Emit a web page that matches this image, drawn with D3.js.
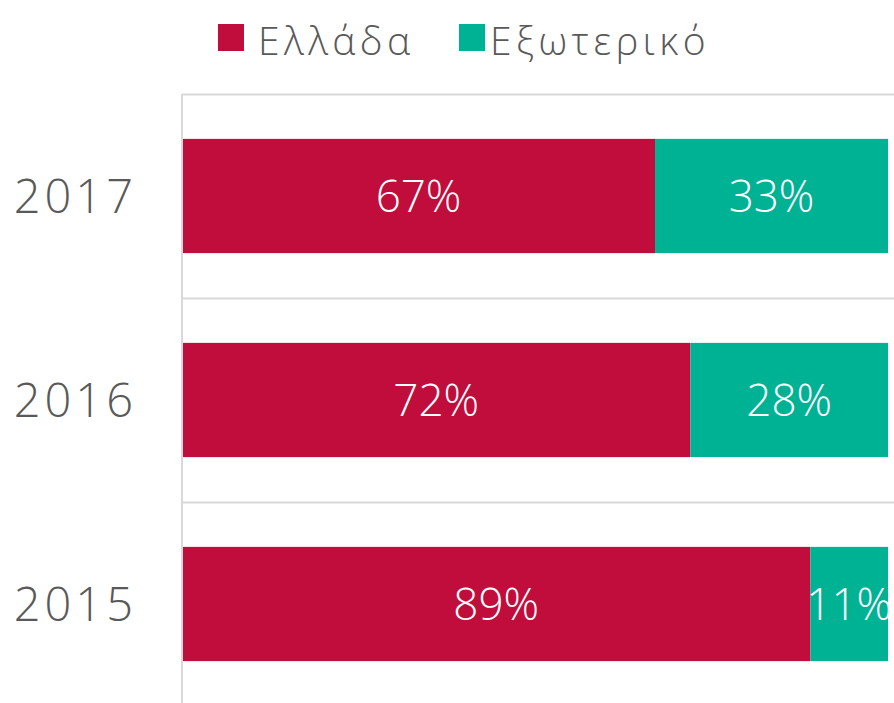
<!DOCTYPE html>
<html>
<head>
<meta charset="utf-8">
<script src="https://cdn.jsdelivr.net/npm/d3@7"></script>
<style>
  body { margin: 0; background: #fff; }
  svg { display: block; }
</style>
</head>
<body>
<div id="chart"></div>
<script>
// data
const years = ["2017", "2016", "2015"];
const greece = [67, 72, 89];
const abroad = [33, 28, 11];
const seriesNames = ["Ελλάδα", "Εξωτερικό"];
const seriesColors = ["#c00d3c", "#00b294"];

const width = 894, height = 703;

const svg = d3.select("#chart")
  .append("svg")
  .attr("width", width)
  .attr("height", height);

const x = d3.scaleLinear().domain([0, 100]).range([182, 888]);
const y = d3.scaleBand()
  .domain(years)
  .range([94, 706])
  .paddingInner(0.44)
  .paddingOuter(0.22);

// gridlines between categories
const gap = (y.step() - y.bandwidth()) / 2;
svg.selectAll(".grid")
  .data(years)
  .enter()
  .append("line")
  .attr("x1", x(0))
  .attr("x2", width)
  .attr("y1", (d) => Math.round(y(d) - gap) + 0.5)
  .attr("y2", (d) => Math.round(y(d) - gap) + 0.5)
  .attr("stroke", "#d9d9d9")
  .attr("stroke-width", 2);

// stacked rows
const rows = years.map((yr, i) => ({ year: yr, vals: [greece[i], abroad[i]] }));
const segs = [];
rows.forEach((r) => {
  let acc = 0;
  r.vals.forEach((v, k) => {
    segs.push({ year: r.year, k: k, x0: acc, x1: acc + v, v: v });
    acc += v;
  });
});

svg.selectAll(".seg")
  .data(segs)
  .enter()
  .append("rect")
  .attr("x", (d) => x(d.x0))
  .attr("width", (d) => x(d.x1) - x(d.x0))
  .attr("y", (d) => y(d.year))
  .attr("height", y.bandwidth())
  .attr("fill", (d) => seriesColors[d.k]);

svg.selectAll(".seg-label")
  .data(segs)
  .enter()
  .append("text")
  .attr("x", (d) => (x(d.x0) + x(d.x1)) / 2)
  .attr("y", (d) => y(d.year) + y.bandwidth() / 2)
  .attr("dy", "0.36em")
  .attr("text-anchor", "middle")
  .attr("fill", "#fff")
  .style("font-family", "'Open Sans', sans-serif")
  .style("font-weight", 300)
  .style("font-size", "44px")
  .text((d) => d.v + "%");

// y axis line
svg.append("line")
  .attr("x1", 182).attr("x2", 182)
  .attr("y1", 94).attr("y2", height)
  .attr("stroke", "#d9d9d9")
  .attr("stroke-width", 2);

// year labels
svg.selectAll(".year")
  .data(years)
  .enter()
  .append("text")
  .attr("x", 137)
  .attr("y", (d) => y(d) + y.bandwidth() / 2)
  .attr("dy", "0.36em")
  .attr("text-anchor", "end")
  .attr("fill", "#595959")
  .style("font-family", "'Open Sans', sans-serif")
  .style("font-weight", 300)
  .style("font-size", "47px")
  .style("letter-spacing", "4px")
  .text((d) => d);

// legend
const legendX = [218, 459];
const legend = svg.selectAll(".legend")
  .data(seriesNames)
  .enter()
  .append("g")
  .attr("transform", (d, i) => `translate(${legendX[i]},0)`);

legend.append("rect")
  .attr("x", 0)
  .attr("y", 24)
  .attr("width", 26)
  .attr("height", 27)
  .attr("fill", (d, i) => seriesColors[i]);

legend.append("text")
  .attr("x", (d, i) => (i === 0 ? 40 : 31))
  .attr("y", 55)
  .attr("fill", "#595959")
  .style("font-family", "'Open Sans', sans-serif")
  .style("font-weight", 300)
  .style("font-size", "39px")
  .style("letter-spacing", "4.5px")
  .text((d) => d);
</script>
</body>
</html>
